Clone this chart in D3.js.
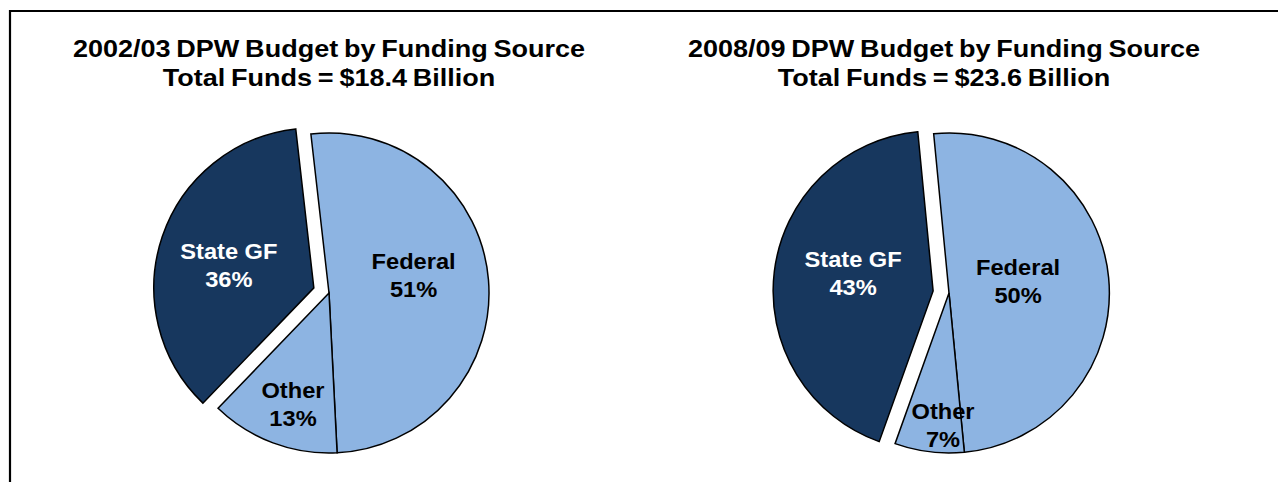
<!DOCTYPE html>
<html>
<head>
<meta charset="utf-8">
<script src="https://cdn.jsdelivr.net/npm/d3@7"></script>
<style>
  html, body { margin: 0; padding: 0; background: #fff; }
  svg { display: block; }
  text { font-family: "Liberation Sans", Arial, Helvetica, sans-serif; font-weight: bold; }
</style>
</head>
<body>
<svg id="chart" width="1278" height="482"></svg>
<script>
// Funding sources and their share (%) of the DPW budget
const sources = ["Federal", "Other", "State GF"];
const shares2002 = [51, 13, 36];
const shares2008 = [50, 7, 43];
const titles2002 = ["2002/03 DPW Budget by Funding Source", "Total Funds = $18.4 Billion"];
const titles2008 = ["2008/09 DPW Budget by Funding Source", "Total Funds = $23.6 Billion"];
const explodedSource = "State GF";

// Layout and styling
const colors = { "Federal": "#8DB4E2", "Other": "#8DB4E2", "State GF": "#17375E" };
const labelColors = { "Federal": "#000", "Other": "#000", "State GF": "#fff" };
const radius = 160;
const explodeDist = 16;
const labelStretch = 1.1;
const titleStretch = 1.15;

const panels = [
  {
    shares: shares2002, titles: titles2002,
    cx: 329, cy: 293, titleX: 329, startDeg: -6.5,
    // label anchor per slice: [angle clockwise from 12 o'clock (deg), distance from slice centre]
    labelPolar: { "Federal": [78, 86.5], "Other": [198, 116.5], "State GF": [285, 88] }
  },
  {
    shares: shares2008, titles: titles2008,
    cx: 949, cy: 293, titleX: 944, startDeg: -5.5,
    labelPolar: { "Federal": [80.6, 70], "Other": [182.6, 132], "State GF": [282.6, 82] }
  }
];

const svg = d3.select("#chart");

// Frame: top and left rules
svg.append("path")
  .attr("d", "M10,482 V11 H1278")
  .attr("fill", "none")
  .attr("stroke", "#000")
  .attr("stroke-width", 2.2);

const rad = deg => deg * Math.PI / 180;
const arc = d3.arc().innerRadius(0).outerRadius(radius);

panels.forEach(p => {
  const g = svg.append("g");

  // Two-line title
  g.selectAll("text.title")
    .data(p.titles)
    .join("text")
    .attr("class", "title")
    .attr("transform", (d, i) => `translate(${p.titleX},${57 + i * 29}) scale(${titleStretch},1)`)
    .attr("text-anchor", "middle")
    .attr("font-size", 23.5)
    .attr("word-spacing", -1.5)
    .attr("fill", "#000")
    .text(d => d);

  const pie = d3.pie()
    .sort(null)
    .value(d => d.value)
    .startAngle(rad(p.startDeg))
    .endAngle(rad(p.startDeg) + 2 * Math.PI);

  const slices = pie(sources.map((s, i) => ({ source: s, value: p.shares[i] })));

  const offset = d => {
    if (d.data.source !== explodedSource) return [0, 0];
    const mid = (d.startAngle + d.endAngle) / 2;
    return [Math.sin(mid) * explodeDist, -Math.cos(mid) * explodeDist];
  };

  const sliceG = g.selectAll("g.slice")
    .data(slices)
    .join("g")
    .attr("class", "slice")
    .attr("transform", d => {
      const [ox, oy] = offset(d);
      return `translate(${p.cx + ox},${p.cy + oy})`;
    });

  sliceG.append("path")
    .attr("d", arc)
    .attr("fill", d => colors[d.data.source])
    .attr("stroke", "#000")
    .attr("stroke-width", 1.5)
    .attr("stroke-linejoin", "miter");

  // Labels: source name and percentage
  sliceG.each(function (d) {
    const [ang, dist] = p.labelPolar[d.data.source];
    const lx = Math.sin(rad(ang)) * dist;
    const ly = -Math.cos(rad(ang)) * dist;
    const lines = [d.data.source, d.data.value + "%"];
    d3.select(this).selectAll("text.lbl")
      .data(lines)
      .join("text")
      .attr("class", "lbl")
      .attr("transform", (t, i) => `translate(${lx},${ly + (i - 0.5) * 28 + 7.8}) scale(${labelStretch},1)`)
      .attr("text-anchor", "middle")
      .attr("font-size", 21.5)
      .attr("fill", labelColors[d.data.source])
      .text(t => t);
  });
});
</script>
</body>
</html>
